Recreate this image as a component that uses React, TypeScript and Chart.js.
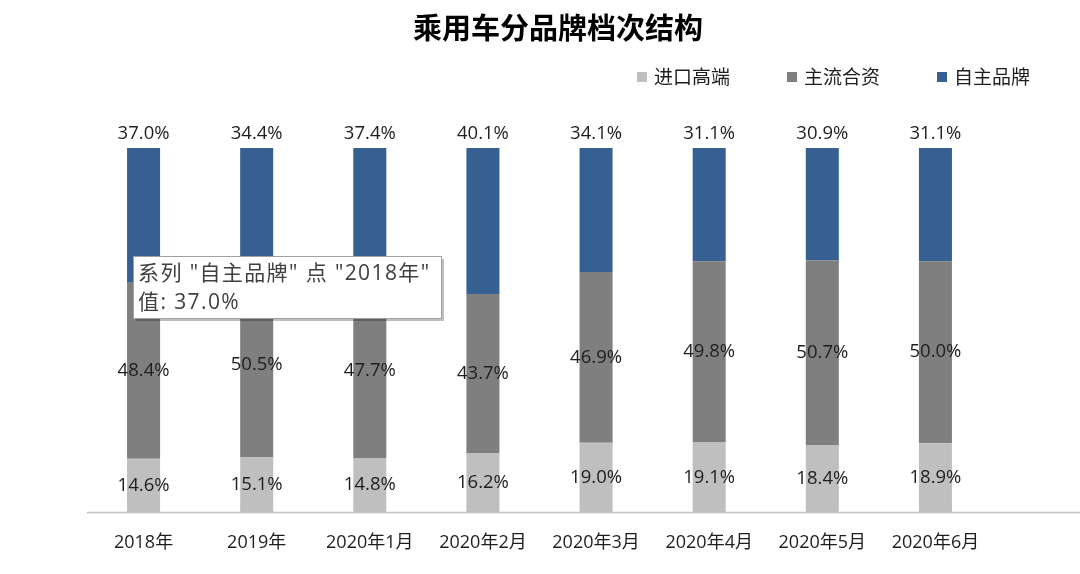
import React, { useEffect, useRef } from "react";
import { Chart, registerables } from "chart.js";

Chart.register(...registerables);

const categories = ["2018年", "2019年", "2020年1月", "2020年2月", "2020年3月", "2020年4月", "2020年5月", "2020年6月"];
const importHigh = [14.6, 15.1, 14.8, 16.2, 19.0, 19.1, 18.4, 18.9];
const mainstreamJV = [48.4, 50.5, 47.7, 43.7, 46.9, 49.8, 50.7, 50.0];
const domestic = [37.0, 34.4, 37.4, 40.1, 34.1, 31.1, 30.9, 31.1];
const seriesNames = ["进口高端", "主流合资", "自主品牌"];
const seriesColors = ["#BFBFBF", "#7F7F7F", "#366092"];
const titleText = "乘用车分品牌档次结构";

const FONT = '"Open Sans", "Noto Sans CJK SC", sans-serif';
const CJK = '"Noto Sans CJK SC", sans-serif';

const rawSeries = [importHigh, mainstreamJV, domestic];

const overlayPlugin = {
  id: "overlay",
  afterDraw(chart: any) {
    const ctx = chart.ctx;
    const area = chart.chartArea;
    ctx.save();
    // axis line
    ctx.strokeStyle = "#BFBFBF";
    ctx.lineWidth = 1.5;
    ctx.beginPath();
    ctx.moveTo(area.left, area.bottom + 0.5);
    ctx.lineTo(chart.width, area.bottom + 0.5);
    ctx.stroke();

    // data labels
    ctx.fillStyle = "#1E1E1E";
    ctx.font = `18.5px ${FONT}`;
    ctx.textAlign = "center";
    ctx.textBaseline = "middle";
    rawSeries.forEach((vals, di) => {
      const meta = chart.getDatasetMeta(di);
      meta.data.forEach((el: any, i: number) => {
        const txt = vals[i].toFixed(1) + "%";
        const y = di === 2 ? el.y - 14 : (el.y + el.base) / 2;
        ctx.fillText(txt, el.x, y);
      });
    });

    // title
    ctx.fillStyle = "#000";
    ctx.font = `bold 29px ${CJK}`;
    ctx.fillText(titleText, 558, 28);

    // legend
    ctx.font = `19px ${CJK}`;
    ctx.textAlign = "left";
    const box = 10, gap = 7, spacing = 57;
    const widths = seriesNames.map((n) => ctx.measureText(n).width);
    const total = widths.reduce((a, w) => a + box + gap + w, 0) + spacing * (seriesNames.length - 1);
    let x = 1030 - total;
    const ly = 77;
    seriesNames.forEach((n, i) => {
      ctx.fillStyle = seriesColors[i];
      ctx.fillRect(x, ly - box / 2, box, box);
      ctx.fillStyle = "#1E1E1E";
      ctx.fillText(n, x + box + gap, ly);
      x += box + gap + widths[i] + spacing;
    });

    // tooltip-like callout
    const tl = 133, tt = 256, tw = 308, th = 62;
    ctx.fillStyle = "rgba(0,0,0,0.25)";
    ctx.fillRect(tl + 3, tt + 3, tw, th);
    ctx.fillStyle = "#FFFFFF";
    ctx.fillRect(tl, tt, tw, th);
    ctx.strokeStyle = "#A0A0A0";
    ctx.lineWidth = 1;
    ctx.strokeRect(tl + 0.5, tt + 0.5, tw, th);
    ctx.fillStyle = "#404040";
    ctx.font = `21px ${FONT}`;
    (ctx as any).letterSpacing = "1.4px";
    ctx.fillText(`系列 "${seriesNames[2]}" 点 "${categories[0]}"`, tl + 5, tt + 18);
    ctx.fillText(`值: ${domestic[0].toFixed(1)}%`, tl + 5, tt + 47);
    (ctx as any).letterSpacing = "0px";
    ctx.restore();
  },
};

export default function App() {
  const ref = useRef<HTMLCanvasElement>(null);
  useEffect(() => {
    document.body.style.margin = "0";
    const totals = categories.map((_, i) => rawSeries.reduce((s, arr) => s + arr[i], 0));
    const chart = new Chart(ref.current!, {
      type: "bar",
      data: {
        labels: categories,
        datasets: rawSeries.map((vals, di) => ({
          label: seriesNames[di],
          data: vals.map((v, i) => (v / totals[i]) * 100),
          backgroundColor: seriesColors[di],
          borderWidth: 0,
          categoryPercentage: 1,
          barPercentage: 0.292,
        })),
      },
      options: {
        animation: false,
        responsive: true,
        maintainAspectRatio: false,
        layout: { padding: { left: 87, right: 88, top: 148, bottom: 0 } },
        plugins: {
          legend: { display: false },
          title: { display: false },
          tooltip: { enabled: false },
        },
        scales: {
          x: {
            stacked: true,
            grid: { display: false, drawTicks: false },
            border: { display: false },
            ticks: { color: "#1E1E1E", font: { size: 18, family: FONT, lineHeight: 1.0 }, padding: 22, maxRotation: 0 },
          },
          y: {
            stacked: true,
            display: false,
            min: 0,
            max: 100,
          },
        },
      },
      plugins: [overlayPlugin],
    });
    return () => chart.destroy();
  }, []);
  return (
    <div style={{ width: 1080, height: 574, position: "relative" }}>
      <canvas ref={ref} />
    </div>
  );
}
